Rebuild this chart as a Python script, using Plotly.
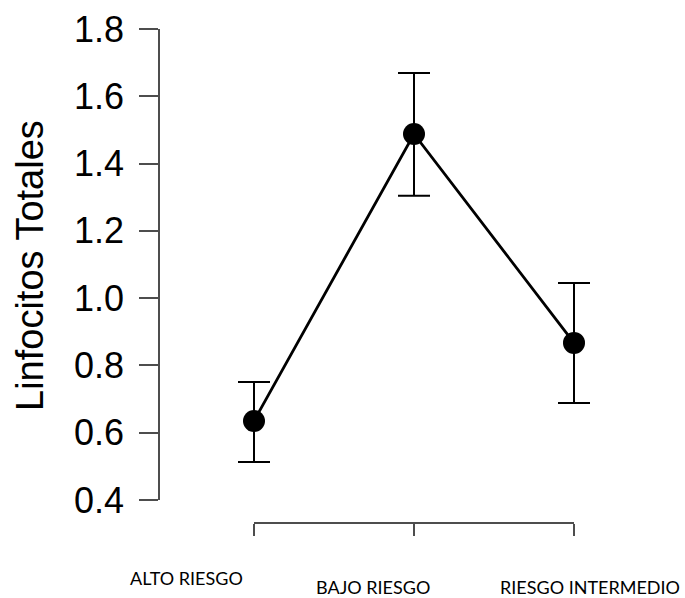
import plotly.graph_objects as go

categories = ["ALTO RIESGO", "BAJO RIESGO", "RIESGO INTERMEDIO"]
means = [0.635, 1.488, 0.867]
upper = [0.751, 1.669, 1.045]
lower = [0.513, 1.304, 0.688]
y_ticks = [0.4, 0.6, 0.8, 1.0, 1.2, 1.4, 1.6, 1.8]
y_title = "Linfocitos Totales"

W, H = 685, 598
xpos = list(range(len(categories)))
err_plus = [u - m for u, m in zip(upper, means)]
err_minus = [m - l for m, l in zip(means, lower)]

# plot area geometry (pixels)
x_first, x_last = 254, 574
pad = 0.5  # extra category units on each side for the data axis
unit = (x_last - x_first) / (len(categories) - 1)
x2_left = x_first - pad * unit
x2_right = x_last + pad * unit

fig = go.Figure()
# invisible trace on visible axis so that it is drawn
fig.add_trace(go.Scatter(x=xpos, y=means, mode="markers",
                         marker=dict(opacity=0), hoverinfo="skip",
                         showlegend=False, xaxis="x", yaxis="y"))
fig.add_trace(go.Scatter(
    x=xpos, y=means, mode="lines+markers",
    line=dict(color="black", width=2.8),
    marker=dict(color="black", size=22),
    error_y=dict(type="data", array=err_plus, arrayminus=err_minus,
                 color="black", thickness=2, width=16, symmetric=False),
    cliponaxis=False, showlegend=False, xaxis="x2", yaxis="y",
))

axis_col = "#4d4d4d"
fig.update_layout(
    width=W, height=H,
    margin=dict(l=0, r=0, t=0, b=0, autoexpand=False),
    paper_bgcolor="white", plot_bgcolor="rgba(0,0,0,0)",
    xaxis=dict(domain=[x_first / W, x_last / W], range=[0, len(categories) - 1],
               anchor="free", position=(H - 523) / H, automargin=False,
               showline=True, linecolor=axis_col, linewidth=1.5,
               ticks="outside", ticklen=12, tickwidth=1.5, tickcolor=axis_col,
               tickvals=xpos, showticklabels=False, showgrid=False, zeroline=False),
    xaxis2=dict(domain=[x2_left / W, x2_right / W], range=[-pad, len(categories) - 1 + pad],
                anchor="y", visible=False, automargin=False,
                showgrid=False, zeroline=False),
    yaxis=dict(domain=[(H - 500) / H, (H - 29) / H], range=[0.4, 1.8],
               anchor="free", position=159 / W, automargin=False,
               showline=True, linecolor=axis_col, linewidth=1.5,
               ticks="outside", ticklen=19, tickwidth=1.5, tickcolor=axis_col,
               tickvals=y_ticks, ticktext=[f"{v:.1f}" for v in y_ticks],
               tickfont=dict(family="Liberation Sans, Arial", size=36, color="black"),
               ticklabelstandoff=8,
               showgrid=False, zeroline=False),
)

fig.add_annotation(text=y_title, textangle=-90, xref="paper", yref="paper",
                   x=30 / W, y=(H - 266) / H, showarrow=False,
                   xanchor="center", yanchor="middle",
                   font=dict(family="Liberation Sans, Arial", size=38, color="black"))

label_pos = [(186, 578), (373, 587), (590, 587)]
for cat, (px, py) in zip(categories, label_pos):
    fig.add_annotation(text=cat, xref="paper", yref="paper",
                       x=px / W, y=(H - py) / H, showarrow=False,
                       xanchor="center", yanchor="middle",
                       font=dict(family="Lato, Open Sans", size=18, color="black"))

fig.write_html("out.html")
